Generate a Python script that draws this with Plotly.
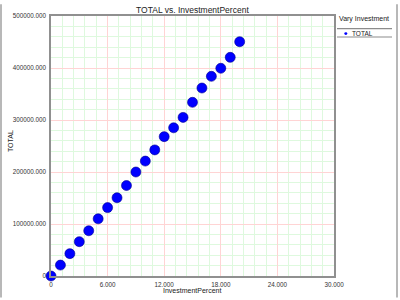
import plotly.graph_objects as go

investment_percent = list(range(0, 21))
total = [0, 21000, 43000, 66000, 87000, 110000, 131500, 150500, 174000, 200000,
         221000, 242500, 268000, 285000, 305000, 334000, 361500, 384000, 399500,
         420500, 450500]

x_tickvals = [0, 6, 12, 18, 24, 30]
x_ticktext = ["0", "6.000", "12.000", "18.000", "24.000", "30.000"]
y_tickvals = [0, 100000, 200000, 300000, 400000, 500000]
y_ticktext = ["0", "100000.000", "200000.000", "300000.000", "400000.000", "500000.000"]

title_text = "TOTAL vs. InvestmentPercent"
x_title = "InvestmentPercent"
y_title = "TOTAL"
legend_title = "Vary Investment"
series_name = "TOTAL"

FONT = "Liberation Sans"
W, H = 400, 300
L, R, T, B = 51, 66, 12, 22
pw = W - L - R
ph = H - T - B

def px(xp):
    return (xp - L) / pw

def py(yp):
    return (H - B - yp) / ph

fig = go.Figure()
fig.add_trace(go.Scatter(
    x=investment_percent, y=total, mode="markers", name=series_name,
    marker=dict(color="#0000ff", size=10, line=dict(color="#000090", width=0.6)),
    cliponaxis=False, showlegend=False,
))

axis_common = dict(
    showline=True, linecolor="#909090", linewidth=1.6, mirror=True,
    gridcolor="#ffd4d4", gridwidth=1, zeroline=False, ticks="",
    tickfont=dict(family=FONT, size=6.3, color="#333333"),
)

fig.update_xaxes(range=[0, 30], tickvals=x_tickvals, ticktext=x_ticktext,
                 minor=dict(dtick=1.2, showgrid=True, gridcolor="#def9de", gridwidth=1),
                 ticklabelstandoff=2, **axis_common)
fig.update_yaxes(range=[0, 500000], tickvals=y_tickvals, ticktext=y_ticktext,
                 minor=dict(dtick=20000, showgrid=True, gridcolor="#def9de", gridwidth=1),
                 ticklabelstandoff=2, **axis_common)

annotations = [
    dict(text=title_text, x=px(192), y=py(6), xref="paper", yref="paper",
         showarrow=False, font=dict(family=FONT, size=8.5, color="#222222"),
         xanchor="center", yanchor="middle"),
    dict(text=x_title, x=px(192), y=py(293), xref="paper", yref="paper",
         showarrow=False, font=dict(family=FONT, size=7, color="#222222"),
         xanchor="center", yanchor="middle"),
    dict(text=y_title, x=px(10), y=py(140), xref="paper", yref="paper",
         showarrow=False, font=dict(family=FONT, size=7, color="#222222"),
         textangle=-90, xanchor="center", yanchor="middle"),
    dict(text=legend_title, x=px(337), y=py(15), xref="paper", yref="paper",
         showarrow=False, font=dict(family=FONT, size=7, color="#222222"),
         xanchor="left", yanchor="middle"),
    dict(text=series_name, x=px(350), y=py(30), xref="paper", yref="paper",
         showarrow=False, font=dict(family=FONT, size=6.5, color="#222222"),
         xanchor="left", yanchor="middle"),
]

shapes = [
    dict(type="line", xref="paper", yref="paper", x0=px(337), x1=px(392),
         y0=py(25), y1=py(25), line=dict(color="#8c8c8c", width=1.2)),
    dict(type="line", xref="paper", yref="paper", x0=px(337), x1=px(392),
         y0=py(33.5), y1=py(33.5), line=dict(color="#8c8c8c", width=1.2)),
    dict(type="circle", xref="paper", yref="paper", x0=px(344.3), x1=px(347.3),
         y0=py(28.5), y1=py(31.5), fillcolor="#0000ff", line=dict(width=0)),
    dict(type="line", xref="paper", yref="paper", x0=px(1), x1=px(1),
         y0=py(0), y1=py(300), line=dict(color="#a0a0a0", width=1.5)),
    dict(type="line", xref="paper", yref="paper", x0=px(397), x1=px(397),
         y0=py(0), y1=py(300), line=dict(color="#a0a0a0", width=1.5)),
]

fig.update_layout(
    width=W, height=H, margin=dict(l=L, r=R, t=T, b=B),
    paper_bgcolor="white", plot_bgcolor="white",
    annotations=annotations, shapes=shapes, showlegend=False,
)

fig.write_html("out.html")
